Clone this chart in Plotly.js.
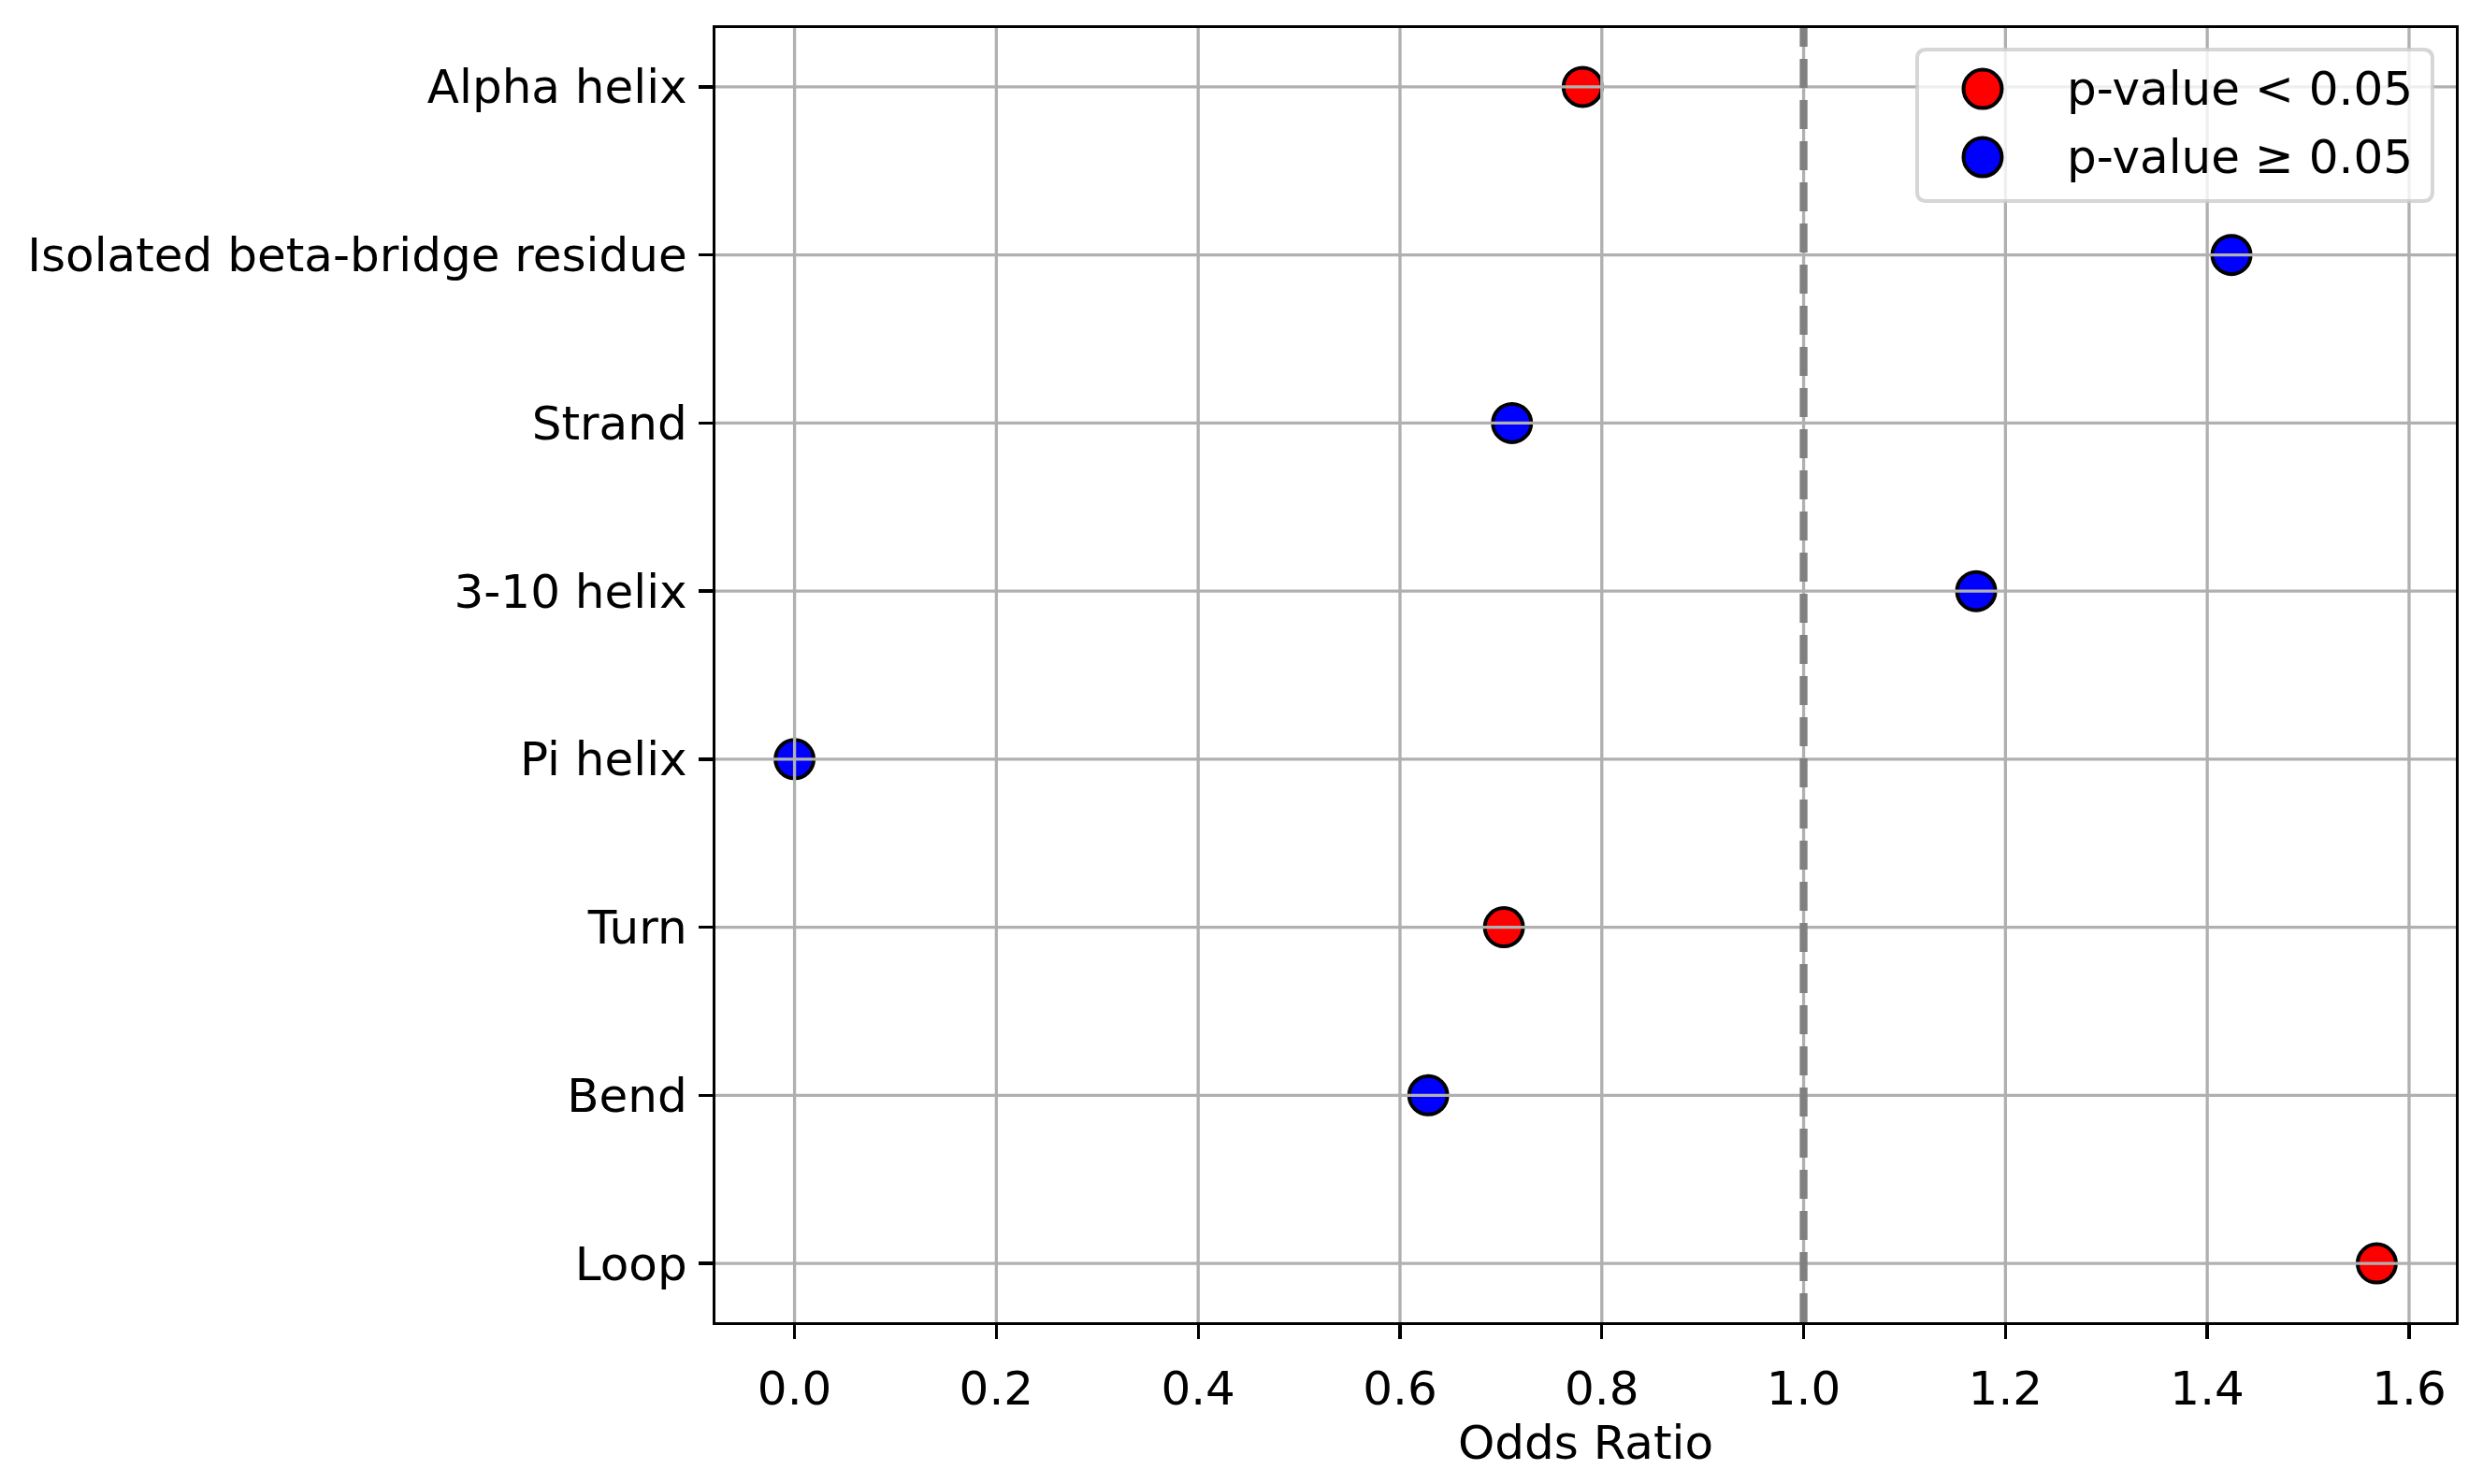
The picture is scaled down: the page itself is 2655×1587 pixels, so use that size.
<!DOCTYPE html>
<html>
<head>
<meta charset="utf-8">
<script src="https://cdn.plot.ly/plotly-3.0.1.min.js"></script>
<style>
	body { margin: 0; padding: 0; background: #ffffff; }
	#myDiv { width: 2655px; height: 1587px; }
</style>
</head>
<body>
<div id="myDiv"></div>
<script>
// structure classes, top to bottom
var categories = ['Alpha helix', 'Isolated beta-bridge residue', 'Strand', '3-10 helix', 'Pi helix', 'Turn', 'Bend', 'Loop']
var oddsRatio = [0.781, 1.424, 0.711, 1.171, 0.0, 0.703, 0.628, 1.568]
var significant = [true, false, false, false, false, true, false, true]
var xTicks = [0.0, 0.2, 0.4, 0.6, 0.8, 1.0, 1.2, 1.4, 1.6]
var xTickLabels = ['0.0', '0.2', '0.4', '0.6', '0.8', '1.0', '1.2', '1.4', '1.6']
var refLine = 1.0
var legendNames = ['p-value < 0.05', 'p-value \u2265 0.05']
var legendColors = ['#ff0000', '#0000ff']

function build_forest(id){
	var sigX=[], sigY=[], nsX=[], nsY=[]
	var i
	for(i=0;i<categories.length;i++){
		if(significant[i]){
			sigX.push(oddsRatio[i])
			sigY.push(categories[i])
		}
		else {
			nsX.push(oddsRatio[i])
			nsY.push(categories[i])
		}
	}

	var trace1 = {
		x: sigX,
		y: sigY,
		type: 'scatter',
		mode: 'markers',
		name: legendNames[0],
		marker: {size: 41, color: legendColors[0], line: {color: '#000000', width: 4}}
	};
	var trace2 = {
		x: nsX,
		y: nsY,
		type: 'scatter',
		mode: 'markers',
		name: legendNames[1],
		marker: {size: 41, color: legendColors[1], line: {color: '#000000', width: 4}}
	};

	// grid goes on top of the points, like the original
	var shapes=[]
	for(i=0;i<xTicks.length;i++){
		shapes.push({type: 'line', layer: 'above', xref: 'x', yref: 'paper',
			x0: xTicks[i], x1: xTicks[i], y0: 0, y1: 1,
			line: {color: '#b0b0b0', width: 3.3}})
	}
	for(i=0;i<categories.length;i++){
		shapes.push({type: 'line', layer: 'above', xref: 'paper', yref: 'y',
			x0: 0, x1: 1, y0: i, y1: i,
			line: {color: '#b0b0b0', width: 3.3}})
	}
	shapes.push({type: 'line', layer: 'above', xref: 'x', yref: 'paper',
		x0: refLine, x1: refLine, y0: 0, y1: 1,
		line: {color: '#808080', width: 8.3, dash: '31px,13px'}})

	// legend drawn by hand so the keys can be as big as the points
	var hw=275.5, hh=81, r=10
	var boxPath = 'M ' + (-hw+r) + ' ' + (-hh) + ' L ' + (hw-r) + ' ' + (-hh) +
		' Q ' + hw + ' ' + (-hh) + ' ' + hw + ' ' + (-hh+r) +
		' L ' + hw + ' ' + (hh-r) + ' Q ' + hw + ' ' + hh + ' ' + (hw-r) + ' ' + hh +
		' L ' + (-hw+r) + ' ' + hh + ' Q ' + (-hw) + ' ' + hh + ' ' + (-hw) + ' ' + (hh-r) +
		' L ' + (-hw) + ' ' + (-hh+r) + ' Q ' + (-hw) + ' ' + (-hh) + ' ' + (-hw+r) + ' ' + (-hh) + ' Z'
	shapes.push({type: 'path', layer: 'above', xref: 'paper', yref: 'paper',
		xsizemode: 'pixel', ysizemode: 'pixel', xanchor: 0.8385, yanchor: 0.9249,
		path: boxPath, fillcolor: 'rgba(255,255,255,0.8)',
		line: {color: 'rgba(204,204,204,0.8)', width: 4}})

	var keyY = [0.9530, 0.9003]
	var annotations=[]
	var axisFont = {family: 'DejaVu Sans', size: 50, color: '#000000'}
	for(i=0;i<legendNames.length;i++){
		shapes.push({type: 'circle', layer: 'above', xref: 'paper', yref: 'paper',
			xsizemode: 'pixel', ysizemode: 'pixel', xanchor: 0.7281, yanchor: keyY[i],
			x0: -20.5, x1: 20.5, y0: -20.5, y1: 20.5,
			fillcolor: legendColors[i], line: {color: '#000000', width: 4}})
		annotations.push({xref: 'paper', yref: 'paper', x: 0.7755, y: keyY[i],
			xanchor: 'left', yanchor: 'middle', showarrow: false,
			text: legendNames[i], font: axisFont})
	}

	var layout = {
		width: 2655,
		height: 1587,
		margin: {l: 765, r: 29, t: 30, b: 173},
		paper_bgcolor: '#ffffff',
		plot_bgcolor: '#ffffff',
		font: axisFont,
		showlegend: false,
		xaxis: {
			range: [-0.0784, 1.6464],
			tickvals: xTicks,
			ticktext: xTickLabels,
			showgrid: false,
			zeroline: false,
			showline: true,
			mirror: true,
			linecolor: '#000000',
			linewidth: 3.3,
			ticks: 'outside',
			ticklen: 15,
			tickwidth: 3.3,
			tickcolor: '#000000',
			ticklabelstandoff: 10,
			tickfont: axisFont,
			title: {text: 'Odds Ratio', font: axisFont, standoff: 0}
		},
		yaxis: {
			type: 'category',
			categoryorder: 'array',
			categoryarray: categories,
			range: [categories.length - 0.65, -0.35],
			showgrid: false,
			zeroline: false,
			showline: true,
			mirror: true,
			linecolor: '#000000',
			linewidth: 3.3,
			ticks: 'outside',
			ticklen: 15,
			tickwidth: 3.3,
			tickcolor: '#000000',
			ticklabelstandoff: 2,
			tickfont: axisFont
		},
		shapes: shapes,
		annotations: annotations
	};
	var data = [trace1, trace2];
	Plotly.newPlot(id, data, layout, {staticPlot: true});
}
build_forest('myDiv')
</script>
</body>
</html>
